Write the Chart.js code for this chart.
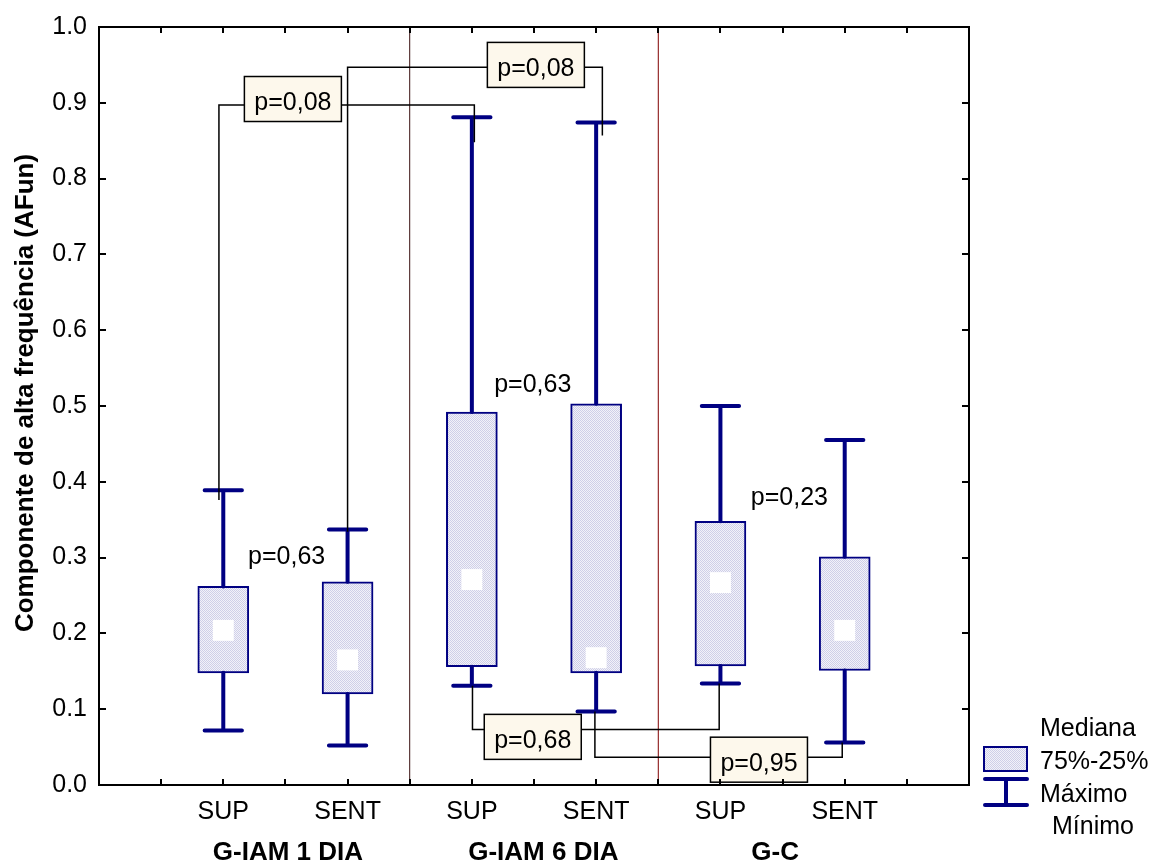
<!DOCTYPE html>
<html><head><meta charset="utf-8">
<style>html,body{margin:0;padding:0;background:#fff;}#wrap{width:1159px;height:861px;}</style>
<script src="https://cdn.jsdelivr.net/npm/chart.js@4.4.1/dist/chart.umd.min.js"></script>
</head><body><div id="wrap"><canvas id="c" width="1159" height="861"></canvas></div>
<script>
// ---- data ----
const categories = ['SUP','SENT','SUP','SENT','SUP','SENT'];
const catPos = [2,4,6,8,10,12];
const groupLabels = ['G-IAM 1 DIA','G-IAM 6 DIA','G-C'];
const groupPos = [3.04,7.15,10.88];
const maxV = [0.389,0.337,0.881,0.874,0.500,0.455];
const q3V  = [0.262,0.268,0.492,0.503,0.348,0.301];
const medV = [0.204,0.165,0.271,0.168,0.267,0.204];
const q1V  = [0.148,0.120,0.156,0.148,0.157,0.151];
const minV = [0.072,0.052,0.131,0.097,0.134,0.056];
const yTicks = [0,0.1,0.2,0.3,0.4,0.5,0.6,0.7,0.8,0.9,1.0];
const xTicks = [1,2,3,4,5,6,7,8,9,10,11,12,13];
const dividers = [5,9];
// comparison brackets
const pLabels  = ['p=0,08','p=0,08','p=0,68','p=0,95'];
const pBoxX    = [3.12,7.03,6.98,10.62];
const pBoxY    = [0.905,0.950,0.0635,0.0334];
const brLeftX  = [1.93,4.0,6.01,7.98];
const brLeftEnd= [0.376,0.334,0.131,0.097];
const brRightX = [6.04,8.10,9.98,11.96];
const brRightEnd=[0.848,0.857,0.134,0.056];
const brLevel  = [0.897,0.947,0.0733,0.0366];
// free p labels
const freeLabels = ['p=0,63','p=0,63','p=0,23'];
const freeX = [3.02,6.98,11.11];
const freeY = [0.292,0.518,0.370];
const legendLabels = ['Mediana','75%-25%','Máximo','Mínimo'];
const yTitle = 'Componente de alta frequência (AFun)';

// ---- styles ----
const NAVY = '#000082';
const FONT = '"Liberation Sans", Arial, sans-serif';
const CAP = 0.3;
function makePattern(){
  const c = document.createElement('canvas'); c.width = 2; c.height = 2;
  const g = c.getContext('2d');
  g.fillStyle = '#f2f2f9'; g.fillRect(0,0,2,2);
  g.fillStyle = '#cfcfe8'; g.fillRect(0,0,1,1); g.fillRect(1,1,1,1);
  return g.createPattern(c,'repeat');
}
const pattern = makePattern();

const whiskerData = [];
catPos.forEach((x,i)=>{
  whiskerData.push({x,y:q3V[i]},{x,y:maxV[i]},{x,y:null},
    {x:x-CAP,y:maxV[i]},{x:x+CAP,y:maxV[i]},{x,y:null},
    {x,y:q1V[i]},{x,y:minV[i]},{x,y:null},
    {x:x-CAP,y:minV[i]},{x:x+CAP,y:minV[i]},{x,y:null});
});
const bracketData = [];
pLabels.forEach((_,i)=>{
  bracketData.push({x:brLeftX[i],y:brLeftEnd[i]},{x:brLeftX[i],y:brLevel[i]},
    {x:brRightX[i],y:brLevel[i]},{x:brRightX[i],y:brRightEnd[i]},{x:brRightX[i],y:null});
});

const overlay = {
  id:'overlay',
  afterDatasetsDraw(chart){
    const ctx = chart.ctx, xs = chart.scales.x, ys = chart.scales.y;
    ctx.save();
    ctx.font = '25px ' + FONT;
    ctx.textAlign = 'center'; ctx.textBaseline = 'alphabetic';
    pLabels.forEach((t,i)=>{
      const cx = xs.getPixelForValue(pBoxX[i]), cy = ys.getPixelForValue(pBoxY[i]);
      const w = 97, h = 45;
      ctx.fillStyle = '#fdf8ec';
      ctx.fillRect(cx-w/2, cy-h/2, w, h);
      ctx.strokeStyle = '#000'; ctx.lineWidth = 1.5;
      ctx.strokeRect(cx-w/2, cy-h/2, w, h);
      ctx.fillStyle = '#000';
      ctx.fillText(t, cx, cy+11);
    });
    freeLabels.forEach((t,i)=>{
      ctx.fillStyle = '#000';
      ctx.fillText(t, xs.getPixelForValue(freeX[i]), ys.getPixelForValue(freeY[i]));
    });
    ctx.restore();
  },
  afterDraw(chart){
    const ctx = chart.ctx, xs = chart.scales.x, ys = chart.scales.y;
    const a = chart.chartArea;
    ctx.save();
    ctx.strokeStyle = '#000'; ctx.lineWidth = 2;
    ctx.beginPath();
    ctx.moveTo(a.left, a.top); ctx.lineTo(a.right, a.top); ctx.lineTo(a.right, a.bottom);
    yTicks.forEach(v=>{
      const py = Math.round(ys.getPixelForValue(v));
      ctx.moveTo(a.left, py); ctx.lineTo(a.left+7, py);
      ctx.moveTo(a.right, py); ctx.lineTo(a.right-7, py);
    });
    xTicks.forEach(v=>{
      const px = Math.round(xs.getPixelForValue(v));
      ctx.moveTo(px, a.bottom); ctx.lineTo(px, a.bottom-6);
      ctx.moveTo(px, a.top); ctx.lineTo(px, a.top+6);
    });
    ctx.stroke();
    // group labels
    ctx.fillStyle = '#000';
    ctx.font = 'bold 26px ' + FONT;
    ctx.textAlign = 'center'; ctx.textBaseline = 'alphabetic';
    groupLabels.forEach((t,i)=>ctx.fillText(t, xs.getPixelForValue(groupPos[i]), 860));
    // y title
    ctx.save();
    ctx.translate(33, (a.top+a.bottom)/2 - 13);
    ctx.rotate(-Math.PI/2);
    ctx.fillText(yTitle, 0, 0);
    ctx.restore();
    // legend
    ctx.fillStyle = pattern;
    ctx.fillRect(983, 746, 45, 26);
    ctx.strokeStyle = NAVY; ctx.lineWidth = 2;
    ctx.strokeRect(984, 747, 43, 24);
    ctx.lineWidth = 4; ctx.lineCap = 'round';
    ctx.beginPath();
    ctx.moveTo(985, 779); ctx.lineTo(1027, 779);
    ctx.moveTo(1006, 779); ctx.lineTo(1006, 805);
    ctx.moveTo(985, 805); ctx.lineTo(1027, 805);
    ctx.stroke();
    ctx.fillStyle = '#000';
    ctx.font = '25px ' + FONT; ctx.textAlign = 'left';
    ctx.fillText(legendLabels[0], 1040, 736);
    ctx.fillText(legendLabels[1], 1040, 769);
    ctx.fillText(legendLabels[2], 1040, 802);
    ctx.fillText(legendLabels[3], 1052, 834);
    ctx.restore();
  }
};

new Chart(document.getElementById('c'), {
  type: 'bar',
  data: {
    datasets: [
      { type:'line', data:[{x:dividers[0],y:0},{x:dividers[0],y:1}], borderColor:'#3a1010', borderWidth:1, pointRadius:0, order:6 },
      { type:'line', data:[{x:dividers[1],y:0},{x:dividers[1],y:1}], borderColor:'#800000', borderWidth:1, pointRadius:0, order:6 },
      { type:'bar', data: catPos.map((x,i)=>({x, y:[q1V[i], q3V[i]]})), backgroundColor: pattern,
        borderColor: NAVY, borderWidth: 2, borderSkipped: false, barThickness: 51, order:4 },
      { type:'line', data: whiskerData, borderColor: NAVY, borderWidth: 4, borderCapStyle:'round',
        pointRadius:0, spanGaps:false, order:3 },
      { type:'line', data: bracketData, borderColor:'#000', borderWidth:1.5, borderJoinStyle:'miter',
        pointRadius:0, spanGaps:false, order:2 },
      { type:'scatter', data: catPos.map((x,i)=>({x, y:medV[i]})), pointStyle:'rect', pointRadius:14.8,
        pointBackgroundColor:'#fff', pointBorderWidth:0, pointBorderColor:'#fff', order:1 }
    ]
  },
  options: {
    responsive:false, maintainAspectRatio:false, animation:false,
    layout:{ padding:{ left:0, top:21, right:190, bottom:0 } },
    plugins:{ legend:{display:false}, tooltip:{enabled:false} },
    scales:{
      x:{ type:'linear', min:0, max:14, offset:false,
          grid:{display:false, drawTicks:false},
          border:{display:true, color:'#000', width:2},
          afterFit: s => { s.height = 76; },
          afterBuildTicks: s => { s.ticks = xTicks.map(v=>({value:v})); },
          ticks:{ autoSkip:false, maxRotation:0, padding:12, color:'#000',
            font:{family:FONT, size:25},
            callback: v => { const k = catPos.indexOf(v); return k >= 0 ? categories[k] : ''; } } },
      y:{ type:'linear', min:0, max:1,
          grid:{display:false, drawTicks:false},
          border:{display:true, color:'#000', width:2},
          afterFit: s => { s.width = 99; },
          afterBuildTicks: s => { s.ticks = yTicks.map(v=>({value:v})); },
          ticks:{ padding:12, color:'#000', font:{family:FONT, size:25},
            callback: v => v.toFixed(1) } }
    }
  },
  plugins:[overlay]
});
</script></body></html>
